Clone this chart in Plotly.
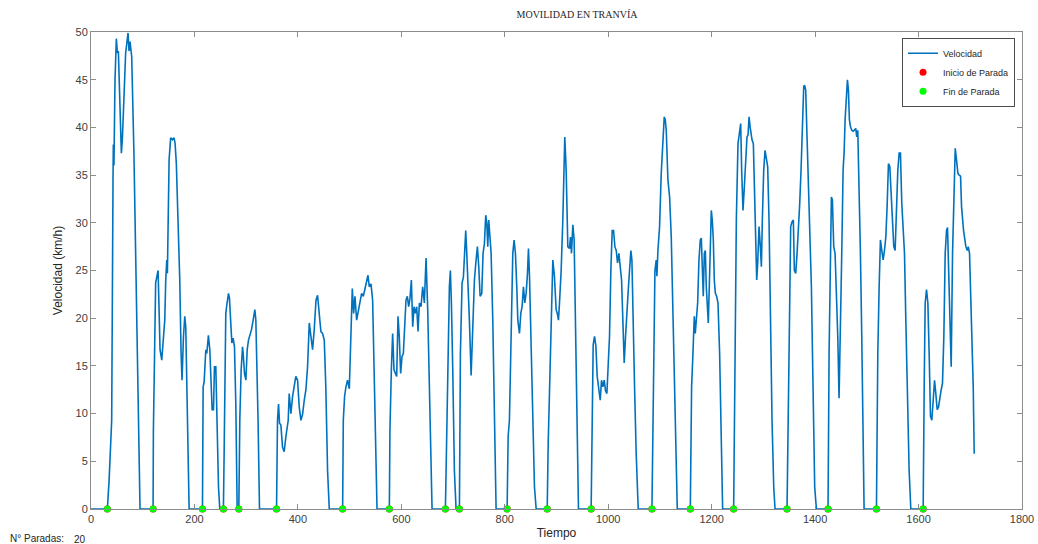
import plotly.graph_objects as go

# Tiempo (s) y velocidad (km/h)
tiempo = [
    0, 31.6, 35, 40, 42.6, 43.2, 44.4, 46.4, 49, 51, 52.9, 54.2, 58.7, 60.6, 67, 71.6, 73.5, 75.5, 78.7, 83, 86.5, 89.7, 92.9, 94.8,
    120, 120.6, 125, 127, 129.7, 131.6, 133.5, 136.8, 139.4, 142.6, 144.5, 146.5, 147.7, 151, 154, 157.4, 160.6, 162.6, 165, 169, 171.6, 174.2, 176, 178.7, 181.3, 183.2, 185, 187.7, 189.7,
    215.5, 216.8, 218.7, 222, 223.9, 227, 229.7, 232, 234.2, 236.8, 238.7, 241.3, 243.2, 246.5, 249,
    256, 257.4, 260.6, 262.6, 265.8, 267.7, 270.3, 272.3, 274.8, 277.4, 280, 282.6,
    285.8, 287.7, 290.3, 293, 294.2, 296.8, 299.4, 302, 304.5, 307.1, 310.3, 313.5, 316.8, 318.7, 320.6, 323, 325.8,
    358.7, 360.6, 362.6, 364.5, 367.1, 370.3, 373.5, 376.8, 381.3, 383.2, 386.5, 389.7, 392.9, 396, 399.4, 402.6, 405.8, 409, 412.3, 415.5, 418.7, 422, 425.2, 428.4, 431.6, 435, 438, 441.3, 444.5, 447.7, 451, 454, 457.4, 460.7,
    486.5, 487.8, 490.3, 492.9, 496, 499.4, 502.6, 505.2, 507.8, 510.3, 513.6, 517.4, 520, 523.2, 526.5, 529.7, 533, 535.5, 538, 541.3, 544.5, 547.8, 551, 553,
    576.8, 578, 580.7, 583.2, 585.8, 588.4, 591, 593.6, 596, 598.7, 601.3, 603.9, 606.5, 609, 611.6, 614.2, 616.8, 619.4, 622, 624.5, 627, 629.7, 632.3, 634.9, 638, 641.3, 644.5, 647.8, 651, 654.2, 657.4, 659.4,
    685.2, 687.7, 690.3, 692.9, 694.8, 696.8, 699.4, 702.6, 705.8,
    712.3, 714.2, 717.4, 720, 722.6, 724.5, 726.5, 729, 731.6, 734.9, 738, 741.3, 744.5, 747.1, 749.7, 752.3, 755.5, 758, 760.6, 763.2, 765.2, 767.1, 769, 771, 773.6, 776.8, 780, 783.2,
    804.5, 806.5, 809, 812.3, 815.5, 818, 820.6, 823.2, 825.2, 828.4, 831, 833.5, 836.1, 838.7, 841.3, 843.9, 845.8, 847.8, 851, 854.2, 857.4, 860.7,
    882, 884, 886.4, 889.6, 892.9, 896, 899.3, 901.5, 903.8, 905.8, 909, 912.2, 914.1, 916, 918.7, 921.9, 925.1, 927, 929, 931.6, 934.1, 936.7, 939.3, 942.5,
    967, 969, 970.9, 973.5, 976.1, 978.7, 981.9, 984.5, 987, 989.6, 992.2, 994.8, 997.4, 999.9, 1002.5, 1005.1, 1007.7, 1010.3, 1012.9, 1015.5, 1018, 1020.6, 1023.2, 1025.8, 1028.3, 1030.9, 1033.5, 1036.1, 1038.7, 1041.2, 1043.8, 1045.8, 1047.7, 1050.9, 1054.1, 1058,
    1084.5, 1087.7, 1090.3, 1092.8, 1094.1, 1096.1, 1099.3, 1102.5, 1105.8, 1108.3, 1110.3, 1112.2, 1115.4, 1118.7, 1121.9, 1125.1, 1128.3, 1131.6, 1133.5,
    1158.7, 1161.2, 1163.8, 1166.4, 1168.3, 1170.3, 1172.9, 1175.4, 1178, 1180, 1181.9, 1183.8, 1185.8, 1187.7, 1189.6, 1191.6, 1193.5, 1195.4, 1197.4, 1199.3, 1201.2, 1203.2, 1205.1, 1207.1, 1209.6, 1212.2, 1215.4, 1218.7, 1221.2,
    1242.5, 1245.1, 1247.7, 1250.9, 1254.1, 1256.1, 1258, 1260.6, 1263.2, 1265.8, 1268.3, 1270.3, 1272.3, 1274.2, 1276.1, 1278, 1280.6, 1282.5, 1285.1, 1287.1, 1289, 1291.6, 1294.1, 1296.1, 1298, 1300.6, 1303.2, 1305.8, 1308.3, 1310.9, 1313.5, 1316.7, 1320, 1322.5,
    1345.7, 1349.6, 1352.8, 1355.4, 1357.9, 1359.9, 1362.5, 1365.1, 1367.6, 1370.2, 1372.8, 1375.4, 1378, 1379.9, 1381.8, 1384.4, 1387, 1389.6, 1392.8, 1396, 1399.2, 1402.5,
    1425, 1427, 1429.6, 1431.5, 1433.4, 1436, 1438.6, 1441.2, 1443.8, 1446.3, 1448.9, 1451.5, 1454.1, 1456, 1458, 1460.5, 1462.5, 1464.4, 1466.3, 1468.3, 1470.9, 1473.4, 1476, 1478.6, 1480.5, 1482.5, 1485, 1487.6, 1490.2, 1492.8, 1494.7,
    1518.6, 1521.2, 1523.8, 1526.3, 1528.9, 1531.5, 1534.1, 1536.7, 1539.2, 1541.8, 1544.4, 1547, 1549.6, 1552.1, 1554.7, 1557.3, 1559.9, 1562.5, 1565, 1567.6, 1570.2, 1572.8, 1575.4, 1578.6, 1581.8, 1585,
    1608.9, 1610.9, 1612.8, 1615.4, 1618, 1620.5, 1623.1, 1625.7, 1628.3, 1630.9, 1633.4, 1636, 1638.6, 1641.2, 1643.8, 1646.3, 1648.9, 1651.5, 1654.1, 1656, 1658, 1660.5, 1663.1, 1665.7, 1668.3, 1670.9, 1673.4, 1676, 1678.6, 1681.2, 1683.1, 1685, 1687, 1689.6, 1691.5, 1694.1, 1696, 1698.6, 1700.5, 1703.1, 1705.7, 1707.6,
]

velocidad = [
    0, 0, 3, 9.3, 34.8, 38.2, 36, 45, 49.3, 47.8, 48, 45, 37.3, 38.7, 47.8, 49.9, 48, 49, 47.4, 37.3, 26.8, 16.3, 9.3, 0,
    0, 8.1, 23.7, 24.2, 25, 20.9, 16.7, 15.6, 17.4, 19.8, 24, 26.1, 24.7, 36.6, 38.9, 38.7, 38.9, 38.3, 36.2, 29.6, 24, 16.3, 13.5, 18, 20.2, 19.1, 14.6, 5.8, 0,
    0, 12.8, 13.3, 16.7, 16.3, 18.2, 16.7, 12.8, 10.4, 10.4, 14.9, 14.9, 10, 2.3, 0,
    0, 5.8, 20.5, 21.4, 22.6, 22.1, 18.8, 17.4, 17.9, 17, 11, 0,
    0, 9.3, 14.6, 17, 16.3, 14.2, 13.5, 16.7, 17.7, 18.1, 18.8, 19.8, 20.9, 19.8, 16.3, 9.3, 0,
    0, 9.3, 11, 9, 8.8, 6.5, 6, 7.6, 9.3, 12.1, 10, 11.8, 12.8, 13.9, 13.5, 10.7, 9.3, 9.9, 11.4, 12.5, 14.9, 19.5, 18.1, 16.7, 18.8, 21.9, 22.4, 20.5, 18.6, 18.4, 17.7, 12.8, 4, 0,
    0, 9.3, 11.8, 12.8, 13.5, 12.6, 18.1, 23.1, 20.5, 22.3, 19.8, 20.9, 21.6, 22.6, 22.3, 23, 24, 24.5, 23.3, 23.6, 21.9, 12.8, 2.3, 0,
    0, 8.3, 14.6, 18.4, 14.6, 14.2, 13.9, 20.2, 18.1, 14.2, 16, 16.3, 19.8, 21.9, 22.3, 21.2, 22.1, 24, 19.1, 21.2, 20.5, 21.2, 18.6, 21.6, 21.2, 23.3, 21.6, 26.3, 20.9, 12.8, 2.3, 0,
    0, 9.3, 16.3, 23.3, 25, 21.6, 14.6, 4, 0,
    0, 16.3, 23.7, 24.3, 26.8, 29.2, 26.8, 24, 19.8, 14, 19.8, 24, 26.1, 27.5, 25.4, 22.3, 22.6, 26.8, 27.8, 30.8, 30, 27.5, 30.3, 28.5, 26.8, 19.8, 9.3, 0,
    0, 7.6, 9.3, 18.1, 26.8, 28.2, 26.8, 23.3, 19.8, 18.4, 20.5, 21.2, 23.3, 21.6, 22.6, 24.7, 27.3, 24.4, 17, 9.3, 2.3, 0,
    0, 7, 13, 21, 26.1, 24.4, 20.9, 20.5, 19.8, 21.6, 25, 30.3, 36.6, 39, 35.5, 27.5, 27.3, 28.5, 26.8, 29.8, 28.2, 19.8, 9.3, 0,
    0, 12.8, 17.2, 18.1, 17.1, 13.9, 12.1, 11.4, 13.5, 12.8, 13.5, 12.4, 12.1, 14.6, 18.1, 25, 29.2, 29.2, 27.5, 27.1, 25.8, 26.8, 25.4, 24, 19.8, 15.3, 18.1, 21.2, 22.9, 25, 27.1, 26.1, 19.8, 12.8, 5.8, 0,
    0, 12.8, 25, 26.1, 24.4, 27.1, 29.6, 35.2, 38, 41.1, 40.8, 39.7, 34.5, 32.7, 28.5, 19.8, 11, 2.3, 0,
    0, 12.8, 16.3, 20.2, 18.4, 20.2, 21.6, 26.1, 28.2, 28.4, 25, 22.3, 26.8, 27.1, 23.3, 20.5, 19.5, 23.3, 28.9, 31.3, 30.3, 28.2, 24, 22.6, 22.3, 21.6, 16.3, 5.8, 0,
    0, 16.3, 30.3, 38.3, 40.1, 40.4, 35.5, 31.3, 33.8, 36.6, 39, 39.2, 41.1, 40.1, 39.4, 38.7, 38.3, 33.8, 28.5, 24, 25.8, 29.6, 27.5, 25.4, 30.3, 35.5, 37.6, 36.6, 35.9, 30.3, 19.8, 9.3, 2.3, 0,
    0, 16.3, 29.6, 30.1, 30.3, 25, 24.7, 26.8, 28.9, 32, 35.5, 40.8, 44.3, 44.4, 43.9, 39, 33.8, 30.3, 23.3, 12.8, 2.3, 0,
    0, 16.3, 26.8, 32.7, 32.4, 27.5, 26.8, 23.3, 18.1, 11.6, 18.1, 26.8, 35.5, 37.3, 40.8, 43.2, 45, 43.9, 40.8, 40.1, 39.7, 39.6, 39.7, 39.9, 39, 39.7, 33.8, 26.8, 18.1, 9.3, 0,
    0, 16.3, 23.3, 28.2, 27.1, 26.1, 27.1, 28.5, 31.7, 36.2, 35.9, 33.4, 31, 27.5, 27.1, 32, 35.5, 37.3, 37.3, 32, 28.5, 26.8, 19.8, 11, 4, 0,
    0, 12.8, 21.6, 23, 21.6, 16.3, 9.7, 9.3, 11, 13.5, 12.1, 10.4, 10.7, 11.8, 12.5, 13.2, 18.1, 26.8, 29.2, 29.5, 25, 19.8, 14.9, 26.8, 33.8, 37.8, 36.6, 35.2, 35, 34.9, 31.7, 30.3, 29.2, 28.2, 27.5, 27.1, 27.5, 26.8, 23.3, 19.8, 12.8, 5.8,
]

# Instantes de las paradas
paradas = [31.6, 120, 215.5, 256, 285.8, 358.7, 486.5, 576.8, 685.2, 712.3,
           804.5, 882, 967, 1084.5, 1158.7, 1242.5, 1345.7, 1425, 1518.6, 1608.9]
ceros = [0] * len(paradas)
n_paradas = len(paradas)

x_ticks = [0, 200, 400, 600, 800, 1000, 1200, 1400, 1600, 1800]
y_ticks = [0, 5, 10, 15, 20, 25, 30, 35, 40, 45, 50]

FONT = "Liberation Sans, Arial, sans-serif"

fig = go.Figure()
fig.add_trace(go.Scatter(x=tiempo, y=velocidad, mode="lines", name="Velocidad",
                         line=dict(color="#0072BD", width=1.6), cliponaxis=False))
fig.add_trace(go.Scatter(x=paradas, y=ceros, mode="markers", name="Inicio de Parada",
                         marker=dict(color="#FF0000", size=7), cliponaxis=False))
fig.add_trace(go.Scatter(x=paradas, y=ceros, mode="markers", name="Fin de Parada",
                         marker=dict(color="#00FF00", size=7), cliponaxis=False))

axis_common = dict(showline=True, linecolor="#8c8c8c", linewidth=1, mirror="ticks",
                   ticks="inside", ticklen=5, tickcolor="#8c8c8c", showgrid=False, zeroline=False,
                   automargin=False,
                   tickfont=dict(family=FONT, size=11, color="#404040"))

fig.update_xaxes(range=[0, 1800], tickvals=x_ticks,
                 title=dict(text="Tiempo", font=dict(family=FONT, size=12, color="#262626"), standoff=4),
                 **axis_common)
fig.update_yaxes(range=[0, 50], tickvals=y_ticks,
                 title=dict(text="Velocidad (km/h)", font=dict(family=FONT, size=12, color="#262626"), standoff=10),
                 **axis_common)

fig.update_layout(
    width=1038, height=544,
    margin=dict(l=91, r=16, t=32, b=35, autoexpand=False),
    paper_bgcolor="white", plot_bgcolor="white",
    title=dict(text="MOVILIDAD EN TRANVÍA", x=577 / 1038, xanchor="center", y=1 - 14 / 544, yanchor="middle",
               xref="container", yref="container", automargin=False,
               font=dict(family="Liberation Serif, Times New Roman, serif", size=10, color="#262626")),
    legend=dict(x=0.9925, xanchor="right", y=0.988, yanchor="top",
                bgcolor="white", bordercolor="#4d4d4d", borderwidth=1,
                font=dict(family=FONT, size=9, color="#262626"),
                tracegroupgap=0, itemwidth=30),
    showlegend=True,
)

fig.add_annotation(text="N° Paradas:", xref="paper", yref="paper",
                   x=-83 / 931, y=-29 / 477, xanchor="left", yanchor="middle", showarrow=False,
                   font=dict(family=FONT, size=10, color="#262626"))
fig.add_annotation(text=str(n_paradas), xref="paper", yref="paper",
                   x=-19 / 931, y=-30 / 477, xanchor="left", yanchor="middle", showarrow=False,
                   font=dict(family=FONT, size=10, color="#262626"))

fig.write_html("out.html", config={"displayModeBar": False})

# Quitar el margen por defecto del <body> para que la figura empiece en (0, 0)
with open("out.html", "r", encoding="utf-8") as f:
    html = f.read()
html = html.replace("<head>", "<head><style>html,body{margin:0;padding:0;overflow:hidden;}</style>", 1)
with open("out.html", "w", encoding="utf-8") as f:
    f.write(html)
